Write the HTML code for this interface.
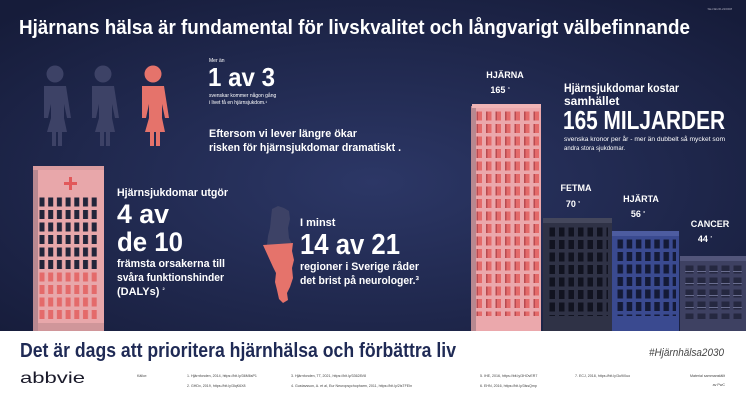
<!DOCTYPE html>
<html><head><meta charset="utf-8"><style>
html,body{margin:0;padding:0;width:746px;height:400px;overflow:hidden;background:#fff}
svg{display:block}
text{font-family:"Liberation Sans Narrow","Liberation Sans",sans-serif}
</style></head><body>
<svg width="746" height="400" viewBox="0 0 746 400" xmlns="http://www.w3.org/2000/svg">
<defs>
<radialGradient id="bg" cx="0.5" cy="0.55" r="0.7">
<stop offset="0" stop-color="#2c3766"/><stop offset="1" stop-color="#161c3a"/>
</radialGradient>
<pattern id="wRed" x="475" y="110" width="9.5" height="12.5" patternUnits="userSpaceOnUse">
<rect x="1.5" y="1.5" width="5.5" height="9" fill="#e46a6a"/><rect x="1.5" y="1.5" width="1.5" height="9" fill="#b84a50"/></pattern>
<pattern id="wDark" x="548" y="226" width="9.5" height="12.5" patternUnits="userSpaceOnUse">
<rect x="1.5" y="1.5" width="5.5" height="9" fill="#111320"/></pattern>
<pattern id="wBlue" x="616" y="238" width="9.2" height="12.5" patternUnits="userSpaceOnUse">
<rect x="1.5" y="1.5" width="5.5" height="9" fill="#141a36"/></pattern>
<pattern id="wGrey" x="684" y="264" width="12" height="12" patternUnits="userSpaceOnUse">
<rect x="1.5" y="1.5" width="8" height="8" fill="#252840"/><rect x="1" y="7" width="9" height="1" fill="#6a6e90"/></pattern>
<pattern id="hD" x="38" y="196" width="8.7" height="12.5" patternUnits="userSpaceOnUse">
<rect x="1.5" y="1.5" width="5" height="9" fill="#22253a"/></pattern>
<pattern id="hR" x="38" y="271" width="8.7" height="12.5" patternUnits="userSpaceOnUse">
<rect x="1.5" y="1.5" width="5" height="9" fill="#e46a6a"/></pattern>
</defs>
<rect width="746" height="331" fill="url(#bg)"/>
<text x="732" y="10" font-size="3" fill="#aab" text-anchor="end">SE-NEUR-220008</text>
<text x="19" y="34" font-size="20" font-weight="bold" fill="#fff" textLength="671" lengthAdjust="spacingAndGlyphs">Hjärnans hälsa är fundamental för livskvalitet och långvarigt välbefinnande</text>

<!-- people -->
<g fill="#3d4266">
<circle cx="55" cy="74" r="8.5"/><path d="M44 86h22l5 32h-4l-3-14v14l3 14h-5v14h-4v-14h-2v14h-4v-14h-5l4-14v-14l-3 14h-4z"/>
<circle cx="103" cy="74" r="8.5"/><path d="M92 86h22l5 32h-4l-3-14v14l3 14h-5v14h-4v-14h-2v14h-4v-14h-5l4-14v-14l-3 14h-4z"/>
</g>
<g fill="#e5736b"><circle cx="153" cy="74" r="8.5"/><path d="M142 86h22l5 32h-4l-3-14v14l3 14h-5v14h-4v-14h-2v14h-4v-14h-5l4-14v-14l-3 14h-4z"/></g>

<text x="209" y="62" font-size="5" fill="#fff">Mer än</text>
<text x="208" y="86" font-size="26" font-weight="bold" fill="#fff" textLength="67" lengthAdjust="spacingAndGlyphs">1 av 3</text>
<text x="209" y="97" font-size="5" fill="#fff">svenskar kommer någon gång</text>
<text x="209" y="104" font-size="5" fill="#fff">i livet få en hjärnsjukdom.¹</text>
<text x="209" y="137" font-size="11" font-weight="bold" fill="#fff" textLength="148" lengthAdjust="spacingAndGlyphs">Eftersom vi lever längre ökar</text>
<text x="209" y="151" font-size="11" font-weight="bold" fill="#fff" textLength="192" lengthAdjust="spacingAndGlyphs">risken för hjärnsjukdomar dramatiskt .</text>

<!-- hospital -->
<rect x="33" y="170" width="5" height="161" fill="#b88890"/>
<rect x="38" y="168" width="66" height="163" fill="#e8a7aa"/>
<rect x="33" y="166" width="71" height="4" fill="#d99ca0"/>
<path d="M69 177h3v5h5v3h-5v5h-3v-5h-5v-3h5z" fill="#e2585a"/>
<rect x="38" y="196" width="62" height="75" fill="url(#hD)"/>
<rect x="38" y="271" width="62" height="50" fill="url(#hR)"/>
<rect x="38" y="323" width="66" height="8" fill="#d0969a"/>

<text x="117" y="196" font-size="11" font-weight="bold" fill="#fff" textLength="111" lengthAdjust="spacingAndGlyphs">Hjärnsjukdomar utgör</text>
<text x="117" y="223" font-size="27" font-weight="bold" fill="#fff" textLength="52" lengthAdjust="spacingAndGlyphs">4 av</text>
<text x="117" y="251" font-size="27" font-weight="bold" fill="#fff" textLength="66" lengthAdjust="spacingAndGlyphs">de 10</text>
<text x="117" y="267" font-size="11" font-weight="bold" fill="#fff" textLength="108" lengthAdjust="spacingAndGlyphs">främsta orsakerna till</text>
<text x="117" y="281" font-size="11" font-weight="bold" fill="#fff" textLength="107" lengthAdjust="spacingAndGlyphs">svåra funktionshinder</text>
<text x="117" y="295" font-size="11" font-weight="bold" fill="#fff">(DALYs) <tspan font-size="4" dy="-5">2</tspan></text>

<!-- sweden -->
<path d="M272 209l6-3 6 2 5 3 1 8-2 9 1 10 3 6-9 0-16 1 1-9 2-8 1-10z" fill="#3d4266"/>
<path d="M263 245l30-2 -1 8 2 9-2 8 1 10-3 9-3 6 1 7-5 3-4-4-2-9-2-8 1-9-3-6z" fill="#e5736b"/>
<text x="300" y="226" font-size="11" font-weight="bold" fill="#fff">I minst</text>
<text x="300" y="254" font-size="29" font-weight="bold" fill="#fff" textLength="100" lengthAdjust="spacingAndGlyphs">14 av 21</text>
<text x="300" y="270" font-size="11" font-weight="bold" fill="#fff" textLength="119" lengthAdjust="spacingAndGlyphs">regioner i Sverige råder</text>
<text x="300" y="284" font-size="11" font-weight="bold" fill="#fff" textLength="119" lengthAdjust="spacingAndGlyphs">det brist på neurologer.³</text>

<!-- buildings -->
<rect x="471" y="106" width="5" height="225" fill="#b88890"/>
<rect x="476" y="106" width="65" height="225" fill="#eba8ac"/>
<rect x="472" y="104" width="69" height="4" fill="#f0b4b6"/>
<rect x="476" y="110" width="66" height="206" fill="url(#wRed)"/>
<text x="505" y="78" font-size="9" font-weight="bold" fill="#fff" text-anchor="middle">HJÄRNA</text>
<text x="500" y="93" font-size="9" font-weight="bold" fill="#fff" text-anchor="middle">165 <tspan font-size="3" dy="-4">4</tspan></text>

<rect x="543" y="218" width="69" height="113" fill="#2f3246"/>
<rect x="543" y="218" width="69" height="5" fill="#44475c"/>
<rect x="548" y="226" width="60" height="90" fill="url(#wDark)"/>
<text x="576" y="191" font-size="9" font-weight="bold" fill="#fff" text-anchor="middle">FETMA</text>
<text x="573" y="207" font-size="9" font-weight="bold" fill="#fff" text-anchor="middle">70 <tspan font-size="3" dy="-4">5</tspan></text>

<rect x="612" y="231" width="67" height="100" fill="#3a4a90"/>
<rect x="612" y="231" width="67" height="5" fill="#4d5ca0"/>
<rect x="616" y="238" width="60" height="78" fill="url(#wBlue)"/>
<text x="641" y="202" font-size="9" font-weight="bold" fill="#fff" text-anchor="middle">HJÄRTA</text>
<text x="638" y="217" font-size="9" font-weight="bold" fill="#fff" text-anchor="middle">56 <tspan font-size="3" dy="-4">6</tspan></text>

<rect x="680" y="256" width="66" height="75" fill="#3e4162"/>
<rect x="680" y="256" width="66" height="5" fill="#52557a"/>
<rect x="684" y="264" width="60" height="55" fill="url(#wGrey)"/>
<text x="710" y="227" font-size="9" font-weight="bold" fill="#fff" text-anchor="middle">CANCER</text>
<text x="705" y="242" font-size="9" font-weight="bold" fill="#fff" text-anchor="middle">44 <tspan font-size="3" dy="-4">7</tspan></text>

<text x="564" y="92" font-size="12" font-weight="bold" fill="#fff" textLength="115" lengthAdjust="spacingAndGlyphs">Hjärnsjukdomar kostar</text>
<text x="564" y="105" font-size="12" font-weight="bold" fill="#fff">samhället</text>
<text x="563" y="129" font-size="26" font-weight="bold" fill="#fff" textLength="162" lengthAdjust="spacingAndGlyphs">165 MILJARDER</text>
<text x="564" y="141" font-size="6" fill="#fff" textLength="161" lengthAdjust="spacingAndGlyphs">svenska kronor per år - mer än dubbelt så mycket som</text>
<text x="564" y="150" font-size="6" fill="#fff">andra stora sjukdomar.</text>

<!-- footer -->
<text x="20" y="357" font-size="20" font-weight="bold" fill="#1f2a55" textLength="436" lengthAdjust="spacingAndGlyphs">Det är dags att prioritera hjärnhälsa och förbättra liv</text>
<text x="724" y="356" font-size="11" font-style="italic" fill="#444" text-anchor="end" textLength="75" lengthAdjust="spacingAndGlyphs">#Hjärnhälsa2030</text>
<text x="20" y="383" font-size="16" fill="#1a1a2a" textLength="65" lengthAdjust="spacingAndGlyphs" font-family="Liberation Sans, sans-serif">abbvie</text>
<g font-size="3.6" fill="#444" font-family="Liberation Sans, sans-serif">
<text x="137" y="377">Källor:</text>
<text x="187" y="377">1. Hjärnfonden, 2014, https://bit.ly/36M6sP1</text>
<text x="187" y="387">2. GHDx, 2019, https://bit.ly/3lqK6X8</text>
<text x="291" y="377">3. Hjärnfonden, TT, 2021, https://bit.ly/33628V8</text>
<text x="291" y="387">4. Gustavsson, A. et al, Eur Neuropsychopharm, 2011, https://bit.ly/2lsTFEIn</text>
<text x="480" y="377">5. IHE, 2016, https://bit.ly/3HOvER7</text>
<text x="480" y="387">6. EHN, 2016, https://bit.ly/3lssQmp</text>
<text x="575" y="377">7. ECJ, 2018, https://bit.ly/3u9iXuo</text>
<text x="725" y="377" text-anchor="end">Material sammanställt</text>
<text x="725" y="386" text-anchor="end">av PwC</text>
</g>
</svg>
</body></html>
